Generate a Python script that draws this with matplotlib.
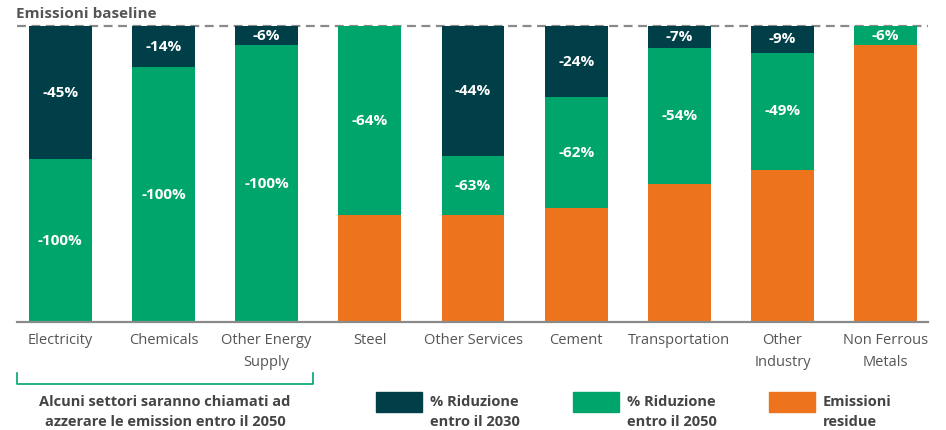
import matplotlib
matplotlib.use("Agg")
import matplotlib.pyplot as plt
from matplotlib.patches import Rectangle
from matplotlib.lines import Line2D
import numpy as np

plt.rcParams['font.family'] = ['Open Sans', 'DejaVu Sans']

# data (share of baseline emissions, %)
sectors = ['Electricity', 'Chemicals', 'Other Energy\nSupply', 'Steel', 'Other Services',
           'Cement', 'Transportation', 'Other\nIndustry', 'Non Ferrous\nMetals']
rid_2030 = [45, 14, 6.5, 0, 44, 24, 7.5, 9, 0]
rid_2050 = [55, 86, 93.5, 64, 20, 37.5, 46, 39.5, 6.5]
residue = [0, 0, 0, 36, 36, 38.5, 46.5, 51.5, 93.5]
lab_2030 = ['-45%', '-14%', '-6%', '', '-44%', '-24%', '-7%', '-9%', '']
lab_2050 = ['-100%', '-100%', '-100%', '-64%', '-63%', '-62%', '-54%', '-49%', '-6%']

c_2030 = '#003f48'
c_2050 = '#00a56b'
c_res = '#ee731d'
grey = '#555555'

W, H = 946, 430
fig = plt.figure(figsize=(W / 100, H / 100), dpi=100)
ax = fig.add_axes([17 / W, 1 - 322 / H, (928 - 17) / W, (322 - 26) / H])

x = np.arange(len(sectors))
w = 0.61
res = np.array(residue)
g50 = np.array(rid_2050)
d30 = np.array(rid_2030)
ax.bar(x, res, w, color=c_res)
ax.bar(x, g50, w, bottom=res, color=c_2050)
ax.bar(x, d30, w, bottom=res + g50, color=c_2030)

for i in range(len(sectors)):
    if lab_2050[i]:
        ax.text(x[i], res[i] + g50[i] / 2, lab_2050[i], ha='center', va='center',
                color='white', fontsize=11, fontweight='bold')
    if lab_2030[i]:
        ax.text(x[i], res[i] + g50[i] + d30[i] / 2, lab_2030[i], ha='center', va='center',
                color='white', fontsize=11, fontweight='bold')

ax.set_xlim(-0.42, 8.41)
ax.set_ylim(0, 100)
ax.axhline(100, color='#8a8a8a', lw=1.6, ls=(0, (4, 2.5)), clip_on=False, zorder=0)
for s in ['top', 'right', 'left']:
    ax.spines[s].set_visible(False)
ax.spines['bottom'].set_color('#8a8a8a')
ax.spines['bottom'].set_linewidth(1.6)
ax.set_yticks([])
ax.set_xticks(x)
ax.set_xticklabels(sectors, fontsize=10.5, color=grey, linespacing=1.65)
ax.tick_params(axis='x', length=0, pad=8)

fig.text(16 / W, 1 - 14 / H, 'Emissioni baseline', fontsize=11, fontweight='bold',
         color=grey, ha='left', va='center')

# bracket under the first three sectors
bx0, bx1, by0, by1 = 17 / W, 313 / W, 1 - 373 / H, 1 - 384 / H
fig.add_artist(Line2D([bx0, bx0, bx1, bx1], [by0, by1, by1, by0],
                      transform=fig.transFigure, color=c_2050, lw=1.2))
fig.text(165 / W, 1 - 412 / H, 'Alcuni settori saranno chiamati ad\nazzerare le emission entro il 2050',
         ha='center', va='center', fontsize=10.5, fontweight='bold', color='#444444',
         linespacing=1.6)

# legend
legend_items = [(376, c_2030, '% Riduzione\nentro il 2030'),
                (573, c_2050, '% Riduzione\nentro il 2050'),
                (769, c_res, 'Emissioni\nresidue')]
for lx, col, txt in legend_items:
    fig.add_artist(Rectangle((lx / W, 1 - 412 / H), 46 / W, 20 / H,
                             transform=fig.transFigure, color=col))
    fig.text((lx + 54) / W, 1 - 412 / H, txt, ha='left', va='center', fontsize=10.5,
             fontweight='bold', color='#444444', linespacing=1.6)

fig.savefig('out.png', dpi=100)
